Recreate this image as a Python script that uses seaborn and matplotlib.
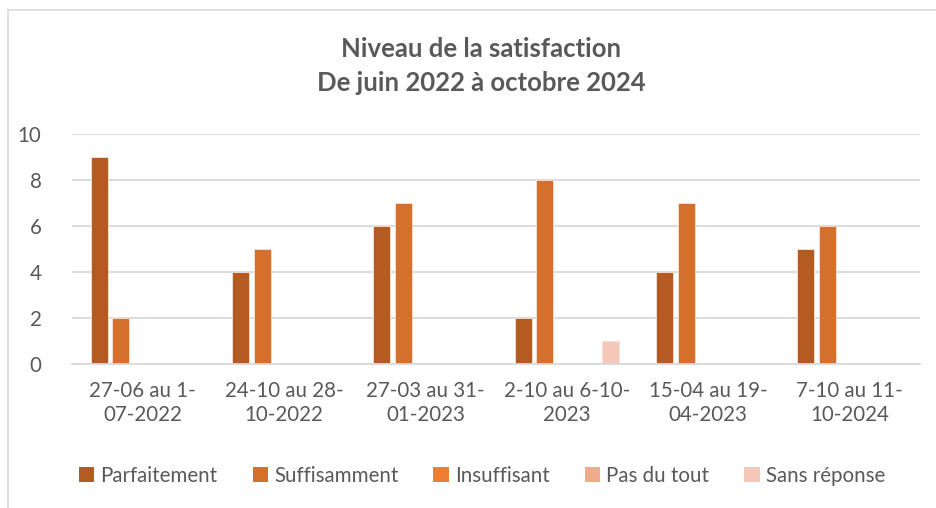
import matplotlib
matplotlib.use("Agg")
import matplotlib.pyplot as plt
import seaborn as sns
import pandas as pd
from matplotlib.lines import Line2D
from matplotlib.patches import Patch

periods = ["27-06 au 1-\n07-2022", "24-10 au 28-\n10-2022", "27-03 au 31-\n01-2023",
           "2-10 au 6-10-\n2023", "15-04 au 19-\n04-2023", "7-10 au 11-\n10-2024"]
series = ["Parfaitement", "Suffisamment", "Insuffisant", "Pas du tout", "Sans réponse"]
parfaitement = [9, 4, 6, 2, 4, 5]
suffisamment = [2, 5, 7, 8, 7, 6]
insuffisant = [0, 0, 0, 0, 0, 0]
pas_du_tout = [0, 0, 0, 0, 0, 0]
sans_reponse = [0, 0, 0, 1, 0, 0]
colors = ["#B45B21", "#D5702C", "#ED7D31", "#F2AA8C", "#F5C7B8"]
title = "Niveau de la satisfaction\nDe juin 2022 à octobre 2024"

values = [parfaitement, suffisamment, insuffisant, pas_du_tout, sans_reponse]
rows = []
for s, vals in zip(series, values):
    for p, v in zip(periods, vals):
        rows.append({"period": p, "series": s, "value": v})
df = pd.DataFrame(rows)

sns.set_theme(style="white")
plt.rcParams["font.family"] = ["Lato", "DejaVu Sans"]
text_color = "#595959"
grid_color = "#D9D9D9"

fig = plt.figure(figsize=(9.37, 5.08), dpi=100)
ax = fig.add_axes([72 / 937, 1 - 364 / 508, (920 - 72) / 937, (364 - 134) / 508])

sns.barplot(data=df, x="period", y="value", hue="series", order=periods,
            hue_order=series, palette=colors, saturation=1, width=0.77, gap=0.22,
            edgecolor="#F8E3D8", linewidth=0.6, legend=False, ax=ax)

ax.set_ylim(0, 10)
ax.set_xlim(-0.5, len(periods) - 0.5)
ax.set_yticks(range(0, 11, 2))
ax.yaxis.grid(True, color=grid_color, linewidth=1.3)
ax.set_axisbelow(True)
for sp in ["top", "right", "left"]:
    ax.spines[sp].set_visible(False)
ax.spines["bottom"].set_color(grid_color)
ax.spines["bottom"].set_linewidth(1.3)
ax.tick_params(axis="both", length=0, labelsize=14.8, labelcolor=text_color)
ax.tick_params(axis="y", pad=22)
ax.tick_params(axis="x", pad=12)
for lab in ax.get_xticklabels():
    lab.set_linespacing(1.3)
ax.set_xlabel("")
ax.set_ylabel("")

fig.text(481 / 937, 1 - 66 / 508, title, ha="center", va="center", fontsize=18.5,
         fontweight="bold", color=text_color, linespacing=1.5)

handles = [Patch(facecolor=c, edgecolor="none", label=s) for c, s in zip(colors, series)]
fig.legend(handles=handles, loc="center", bbox_to_anchor=(482 / 937, 1 - 476 / 508),
           ncol=5, frameon=False, fontsize=14.8, labelcolor=text_color,
           handlelength=0.75, handleheight=0.75, handletextpad=0.3, columnspacing=1.7)

fig.add_artist(Line2D([8 / 937, 1], [1 - 10 / 508, 1 - 10 / 508], transform=fig.transFigure,
                      color=grid_color, linewidth=1.2))
fig.add_artist(Line2D([8 / 937, 8 / 937], [0, 1 - 10 / 508], transform=fig.transFigure,
                      color=grid_color, linewidth=1.2))

fig.savefig("out.png", dpi=100, facecolor="white")
